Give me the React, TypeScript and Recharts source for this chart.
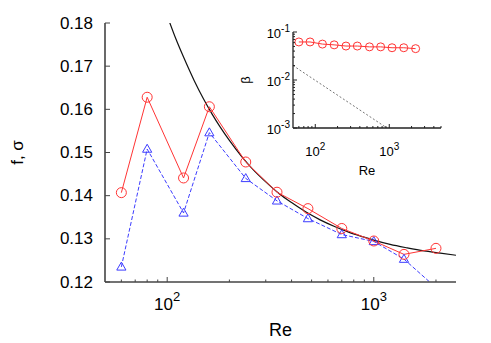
import React from 'react';
import { LineChart, Line, XAxis, YAxis } from 'recharts';

// ---- data ----
const reValues = [60, 80, 120, 160, 240, 340, 480, 700, 1000, 1400, 2000];
const fValues = [0.1407, 0.1628, 0.1441, 0.1606, 0.1478, 0.1408, 0.137, 0.1324, 0.1295, 0.1264, 0.1278];
const sigmaValues = [0.1235, 0.1508, 0.136, 0.1546, 0.144, 0.1388, 0.1347, 0.131, 0.1294, 0.1253, 0.1187];

const fitRe = [100, 110, 120, 135, 150, 165, 180, 200, 230, 260, 300, 350, 400, 470, 550, 650, 750, 880, 1000, 1200, 1450, 1750, 2100, 2500];
const fitValues = [0.1817, 0.1764, 0.1721, 0.1667, 0.1624, 0.1589, 0.156, 0.1528, 0.149, 0.1461, 0.1432, 0.1404, 0.1384, 0.1362, 0.1344, 0.1328, 0.1316, 0.1305, 0.1297, 0.1287, 0.1279, 0.1272, 0.1267, 0.1262];

const insetRe = [60, 85, 125, 180, 260, 370, 540, 765, 1090, 1570, 2270];
const betaValues = [0.062, 0.062, 0.056, 0.054, 0.051, 0.051, 0.049, 0.049, 0.047, 0.047, 0.045];

const refRe = [50, 930];
const refBeta = [0.02, 0.001];

const mainXTicks = [60, 70, 80, 90, 100, 200, 300, 400, 500, 600, 700, 800, 900, 1000, 2000];
const mainYTicks = [0.12, 0.13, 0.14, 0.15, 0.16, 0.17, 0.18];
const insetXTicks = [60, 70, 80, 90, 100, 200, 300, 400, 500, 600, 700, 800, 900, 1000, 2000, 3000, 4000, 5000];
const insetYTicks = [
  0.001, 0.002, 0.003, 0.004, 0.005, 0.006, 0.007, 0.008, 0.009,
  0.01, 0.02, 0.03, 0.04, 0.05, 0.06, 0.07, 0.08, 0.09, 0.1,
];

// ---- tables built from the arrays ----
const fData = reValues.map((re, i) => ({ re, v: fValues[i] }));
const sigmaData = reValues.map((re, i) => ({ re, v: sigmaValues[i] }));
const fitData = fitRe.map((re, i) => ({ re, v: fitValues[i] }));
const betaData = insetRe.map((re, i) => ({ re, v: betaValues[i] }));
const refData = refRe.map((re, i) => ({ re, v: refBeta[i] }));

const FONT = '"Liberation Sans", Arial, Helvetica, sans-serif';
const RED = '#ff3434';
const BLUE = '#3c3cff';

const isLogMajor = (v: number) => {
  const l = Math.log10(v);
  return Math.abs(l - Math.round(l)) < 1e-6;
};
const always = () => true;

type Side = 'left' | 'right' | 'top' | 'bottom';
interface TickCfg {
  side: Side;
  isMajor: (v: number) => boolean;
  majorLen: number;
  minorLen: number;
  color: string;
  width: number;
  label?: (v: number, x: number, y: number) => React.ReactNode;
}

function makeTick(cfg: TickCfg) {
  return (props: any) => {
    const { x, y, payload } = props;
    const v = Number(payload.value);
    const major = cfg.isMajor(v);
    const len = major ? cfg.majorLen : cfg.minorLen;
    let x2 = x;
    let y2 = y;
    if (cfg.side === 'left') x2 = x + len;
    else if (cfg.side === 'right') x2 = x - len;
    else if (cfg.side === 'bottom') y2 = y - len;
    else y2 = y + len;
    return (
      <g>
        <line x1={x} y1={y} x2={x2} y2={y2} stroke={cfg.color} strokeWidth={cfg.width} />
        {major && cfg.label ? cfg.label(v, x, y) : null}
      </g>
    );
  };
}

const powLabel = (fs: number, sfs: number, dy: number, dx: number, dyBase: number, anchor: string) =>
  (v: number, x: number, y: number) => (
    <text x={x + dx} y={y + dyBase} textAnchor={anchor as any} fontSize={fs} fontFamily={FONT} fill="#000">
      <tspan>10</tspan>
      <tspan dy={-dy} fontSize={sfs}>{String(Math.round(Math.log10(v)))}</tspan>
    </text>
  );

const MAIN_AXIS = '#444';
const INSET_AXIS = '#222';

const mainLeftTick = makeTick({
  side: 'left', isMajor: always, majorLen: 5, minorLen: 5, color: MAIN_AXIS, width: 1,
  label: (v, x, y) => (
    <text x={x - 12} y={y} textAnchor="end" dominantBaseline="central" fontSize={17} fontFamily={FONT} fill="#000">
      {v.toFixed(2)}
    </text>
  ),
});
const mainRightTick = makeTick({ side: 'right', isMajor: always, majorLen: 5, minorLen: 5, color: MAIN_AXIS, width: 1 });
const mainBottomTick = makeTick({
  side: 'bottom', isMajor: isLogMajor, majorLen: 5, minorLen: 2.5, color: MAIN_AXIS, width: 1,
  label: powLabel(17, 13, 9, 0, 28, 'middle'),
});
const mainTopTick = makeTick({ side: 'top', isMajor: isLogMajor, majorLen: 5, minorLen: 2.5, color: MAIN_AXIS, width: 1 });

const insetLeftTick = makeTick({
  side: 'left', isMajor: isLogMajor, majorLen: 4, minorLen: 2, color: INSET_AXIS, width: 1,
  label: powLabel(13, 10, 6, -3, 6, 'end'),
});
const insetRightTick = makeTick({ side: 'right', isMajor: isLogMajor, majorLen: 4, minorLen: 2, color: INSET_AXIS, width: 1 });
const insetBottomTick = makeTick({
  side: 'bottom', isMajor: isLogMajor, majorLen: 4, minorLen: 2, color: INSET_AXIS, width: 1,
  label: powLabel(13, 10, 6, 0, 28, 'middle'),
});
const insetTopTick = makeTick({ side: 'top', isMajor: isLogMajor, majorLen: 4, minorLen: 2, color: INSET_AXIS, width: 1 });

const triangleDot = (p: any) => {
  const { cx, cy, index } = p;
  if (cx == null || cy == null) return <g key={`t${index}`} />;
  const pts = `${cx},${cy - 4.8} ${cx - 4.6},${cy + 3.2} ${cx + 4.6},${cy + 3.2}`;
  return <polygon key={`t${index}`} points={pts} fill="none" stroke={BLUE} strokeWidth={1} />;
};

export default function App() {
  return (
    <div style={{ position: 'absolute', left: 0, top: 0, width: 491, height: 343, background: '#fff' }}>
      <div style={{ position: 'absolute', left: 0, top: 0 }}>
        <LineChart width={491} height={343} margin={{ top: 23, right: 35, bottom: 0, left: 0 }}>
          <XAxis
            xAxisId={0}
            dataKey="re"
            type="number"
            scale="log"
            domain={[50, 2500]}
            allowDataOverflow
            ticks={mainXTicks}
            interval={0}
            tickSize={0}
            tickMargin={0}
            height={61}
            tick={mainBottomTick}
            axisLine={{ stroke: MAIN_AXIS, strokeWidth: 1.6 }}
            tickLine={false}
            label={{
              content: (props: any) => {
                const vb = props.viewBox || {};
                return (
                  <text x={vb.x + vb.width / 2} y={vb.y + 54} textAnchor="middle" fontSize={18} fontFamily={FONT} fill="#000">
                    Re
                  </text>
                );
              },
            }}
          />
          <XAxis
            xAxisId="top"
            orientation="top"
            type="number"
            scale="log"
            domain={[50, 2500]}
            allowDataOverflow
            ticks={mainXTicks}
            interval={0}
            tickSize={0}
            tickMargin={0}
            height={0}
            tick={mainTopTick}
            axisLine={{ stroke: MAIN_AXIS, strokeWidth: 1.6 }}
            tickLine={false}
          />
          <YAxis
            yAxisId={0}
            type="number"
            domain={[0.12, 0.18]}
            allowDataOverflow
            ticks={mainYTicks}
            interval={0}
            tickSize={0}
            tickMargin={0}
            width={105}
            tick={mainLeftTick}
            axisLine={{ stroke: MAIN_AXIS, strokeWidth: 1.6 }}
            tickLine={false}
            label={{
              content: (props: any) => {
                const vb = props.viewBox || {};
                const cx = vb.x + 17;
                const cy = vb.y + vb.height / 2;
                return (
                  <text
                    x={cx}
                    y={cy}
                    transform={`rotate(-90, ${cx}, ${cy})`}
                    textAnchor="middle"
                    dominantBaseline="central"
                    fontSize={17}
                    fontFamily={FONT}
                    fill="#000"
                  >
                    f, σ
                  </text>
                );
              },
            }}
          />
          <YAxis
            yAxisId="right"
            orientation="right"
            type="number"
            domain={[0.12, 0.18]}
            allowDataOverflow
            ticks={mainYTicks}
            interval={0}
            tickSize={0}
            tickMargin={0}
            width={0}
            tick={mainRightTick}
            axisLine={{ stroke: MAIN_AXIS, strokeWidth: 1.6 }}
            tickLine={false}
          />
          <Line
            data={fitData}
            dataKey="v"
            type="monotone"
            stroke="#111"
            strokeWidth={1.2}
            dot={false}
            activeDot={false}
            isAnimationActive={false}
          />
          <Line
            data={sigmaData}
            dataKey="v"
            type="linear"
            stroke={BLUE}
            strokeWidth={1}
            strokeDasharray="4 2"
            dot={triangleDot}
            activeDot={false}
            isAnimationActive={false}
          />
          <Line
            data={fData}
            dataKey="v"
            type="linear"
            stroke={RED}
            strokeWidth={1}
            dot={{ r: 5, fill: 'none', stroke: RED, strokeWidth: 1 }}
            activeDot={false}
            isAnimationActive={false}
          />
        </LineChart>
      </div>

      <div style={{ position: 'absolute', left: 225, top: 0 }}>
        <LineChart width={235} height={185} margin={{ top: 32, right: 19, bottom: 0, left: 0 }}>
          <XAxis
            xAxisId={0}
            dataKey="re"
            type="number"
            scale="log"
            domain={[50, 5000]}
            allowDataOverflow
            ticks={insetXTicks}
            interval={0}
            tickSize={0}
            tickMargin={0}
            height={57}
            tick={insetBottomTick}
            axisLine={{ stroke: INSET_AXIS, strokeWidth: 1.3 }}
            tickLine={false}
            label={{
              content: (props: any) => {
                const vb = props.viewBox || {};
                return (
                  <text x={vb.x + vb.width / 2} y={vb.y + 46.5} textAnchor="middle" fontSize={13} fontFamily={FONT} fill="#000">
                    Re
                  </text>
                );
              },
            }}
          />
          <XAxis
            xAxisId="top"
            orientation="top"
            type="number"
            scale="log"
            domain={[50, 5000]}
            allowDataOverflow
            ticks={insetXTicks}
            interval={0}
            tickSize={0}
            tickMargin={0}
            height={0}
            tick={insetTopTick}
            axisLine={{ stroke: INSET_AXIS, strokeWidth: 1.3 }}
            tickLine={false}
          />
          <YAxis
            yAxisId={0}
            type="number"
            scale="log"
            domain={[0.001, 0.1]}
            allowDataOverflow
            ticks={insetYTicks}
            interval={0}
            tickSize={0}
            tickMargin={0}
            width={68}
            tick={insetLeftTick}
            axisLine={{ stroke: INSET_AXIS, strokeWidth: 1.3 }}
            tickLine={false}
            label={{
              content: (props: any) => {
                const vb = props.viewBox || {};
                const cx = vb.x + 20;
                const cy = vb.y + vb.height / 2;
                return (
                  <text
                    x={cx}
                    y={cy}
                    transform={`rotate(-90, ${cx}, ${cy})`}
                    textAnchor="middle"
                    dominantBaseline="central"
                    fontSize={13}
                    fontFamily={FONT}
                    fill="#000"
                  >
                    β
                  </text>
                );
              },
            }}
          />
          <YAxis
            yAxisId="right"
            orientation="right"
            type="number"
            scale="log"
            domain={[0.001, 0.1]}
            allowDataOverflow
            ticks={insetYTicks}
            interval={0}
            tickSize={0}
            tickMargin={0}
            width={0}
            tick={insetRightTick}
            axisLine={{ stroke: INSET_AXIS, strokeWidth: 1.3 }}
            tickLine={false}
          />
          <Line
            data={refData}
            dataKey="v"
            type="linear"
            stroke="#777"
            strokeWidth={1}
            strokeDasharray="2 2"
            dot={false}
            activeDot={false}
            isAnimationActive={false}
          />
          <Line
            data={betaData}
            dataKey="v"
            type="linear"
            stroke={RED}
            strokeWidth={1}
            dot={{ r: 4, fill: 'none', stroke: RED, strokeWidth: 1 }}
            activeDot={false}
            isAnimationActive={false}
          />
        </LineChart>
      </div>
    </div>
  );
}
